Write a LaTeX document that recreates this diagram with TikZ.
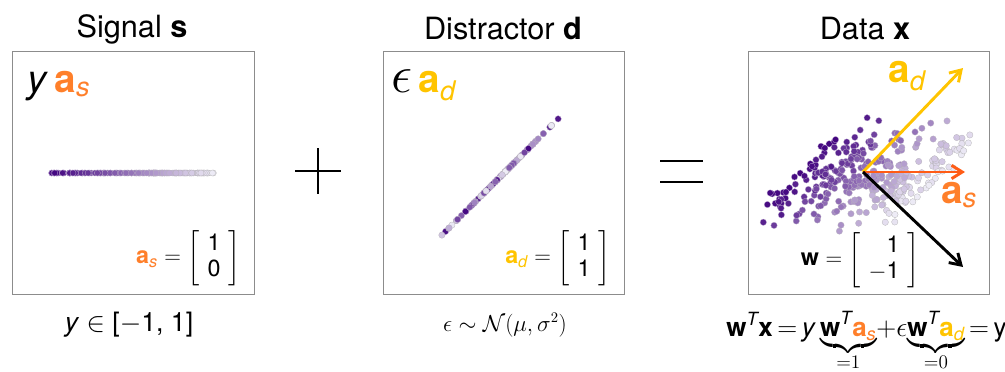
\documentclass[tikz,border=0pt]{standalone}
\usepackage{amsmath}
\usepackage{graphicx}
\usepackage{fontspec}
\setmainfont{TeX Gyre Heros}
\usetikzlibrary{arrows.meta}

\definecolor{sigdark}{RGB}{63,0,125}
\definecolor{siglight}{RGB}{238,236,246}
\definecolor{adyellow}{RGB}{255,196,0}
\definecolor{asorange}{RGB}{255,127,42}
\definecolor{asarrow}{RGB}{255,92,22}

\newcommand{\bvec}[1]{\textbf{#1}}

\begin{document}
\begin{tikzpicture}[x=0.75pt,y=-0.75pt,
    panel/.style={draw=black!45, line width=0.7pt},
    title/.style={font=\fontsize{23}{27}\selectfont},
    biglabel/.style={anchor=base west, inner sep=0pt, font=\fontsize{29}{32}\selectfont},
    matlabel/.style={anchor=east, inner sep=0pt, font=\fontsize{17.5}{20}\selectfont},
    foot/.style={font=\fontsize{16}{19}\selectfont},
    vec/.style={line width=2.2pt, -{Straight Barb[length=8pt,width=10pt]}},
    opsign/.style={line width=1.3pt}]
    \useasboundingbox (0,0) rectangle (1005,371);

    % panels
    \draw[panel] (12,51) rectangle (254,294);
    \draw[panel] (383,51) rectangle (624,294);
    \draw[panel] (748,51) rectangle (989,294);

    % titles
    \node[title] (tsig) at (132,29) {Signal \textbf{s}};
    \node[title] (tdis) at (503,29) {Distractor \textbf{d}};
    \node[title] (tdat) at (865,29) {Data \textbf{x}};

    % signal: points on a horizontal line
    \pgfmathsetseed{11}
    \foreach \i in {1,...,160}{
        \pgfmathsetmacro\yy{rand}
        \pgfmathtruncatemacro\t{50*(1-\yy)}
        \filldraw[fill=sigdark!\t!siglight, draw=sigdark!\t!black!30, line width=0.2pt]
            (133+82*\yy,173) circle[radius=2.3pt];
    }

    % distractor: points on the diagonal
    \foreach \i in {1,...,110}{
        \pgfmathsetmacro\yy{rand}
        \pgfmathsetmacro\ee{0.55*(rand+rand+rand)}
        \pgfmathtruncatemacro\t{50*(1-\yy)}
        \filldraw[fill=sigdark!\t!siglight, draw=sigdark!\t!black!30, line width=0.2pt]
            (500+45*\ee,177-45*\ee) circle[radius=2.4pt];
    }

    % data: signal plus distractor
    \begin{scope}
        \clip (748,51) rectangle (989,294);
        \foreach \i in {1,...,330}{
            \pgfmathsetmacro\yy{rand}
            \pgfmathsetmacro\ee{0.6*(rand+rand+rand)}
            \pgfmathsetmacro\nn{0.5*(rand+rand)}
            \pgfmathtruncatemacro\t{50*(1-\yy)}
            \filldraw[fill=sigdark!\t!siglight, draw=sigdark!\t!black!30, line width=0.2pt]
                (865+72*\yy+36*\ee+14*\nn,178-36*\ee) circle[radius=2.4pt];
        }
    \end{scope}

    % vectors
    \coordinate (orig) at (863,172);
    \coordinate (adtip) at (963,68);
    \coordinate (astip) at (965,172);
    \coordinate (wtip) at (963,267);
    \draw[vec, adyellow] (orig) -- (adtip);
    \draw[vec, asarrow] (orig) -- (astip);
    \draw[vec, black] (orig) -- (wtip);
    \node[biglabel, text=adyellow] (adlab) at (888,82) {\textbf{a}$_{\textit{d}}$};
    \node[biglabel, text=asorange] (aslab) at (941,203) {\textbf{a}$_{\textit{s}}$};

    % panel labels
    \node[biglabel] (ylab) at (27,92)
        {\textit{y}\,\textcolor{asorange}{\textbf{a}$_{\textit{s}}$}};
    \node[biglabel] (elab) at (391,92)
        {\scalebox{1.6}{$\epsilon$}\,\textcolor{adyellow}{\textbf{a}$_{\textit{d}}$}};

    % matrices
    \node[matlabel] (asmat) at (241,258)
        {\textcolor{asorange}{\textbf{a}$_{\textit{s}}$} $=\left[\begin{tabular}{c}1\\0\end{tabular}\right]$};
    \node[matlabel] (admat) at (611,258)
        {\textcolor{adyellow}{\textbf{a}$_{\textit{d}}$} $=\left[\begin{tabular}{c}1\\1\end{tabular}\right]$};
    \node[matlabel] (wmat) at (920,260)
        {\textbf{w} $=\left[\begin{tabular}{r}1\\$-$1\end{tabular}\right]$};

    % operators
    \draw[opsign] (295,171) -- (341,171);
    \draw[opsign] (318,148) -- (318,194);
    \draw[opsign] (660,161) -- (703,161);
    \draw[opsign] (660,182) -- (703,182);

    % footers
    \node[foot, font=\fontsize{20}{24}\selectfont] (ysig) at (129,325) {\textit{y} $\in$ [$-$1, 1]};
    \node[foot] (edis) at (505,325) {$\epsilon\sim\mathcal{N}(\mu,\sigma^2)$};
    \node[foot, font=\fontsize{19.5}{24}\selectfont, anchor=base west, inner sep=0pt] (wdat) at (726,336)
        {\bvec{w}$^{\textit{T}}$\bvec{x}$\,=\,$\textit{y}\,$\underbrace{\text{\bvec{w}$^{\textit{T}}$\textcolor{asorange}{\bvec{a}$_{\textit{s}}$}}}_{=1}$$+\epsilon$$\underbrace{\text{\bvec{w}$^{\textit{T}}$\textcolor{adyellow}{\bvec{a}$_{\textit{d}}$}}}_{=0}$$\,=\,$y};
\end{tikzpicture}
\end{document}
